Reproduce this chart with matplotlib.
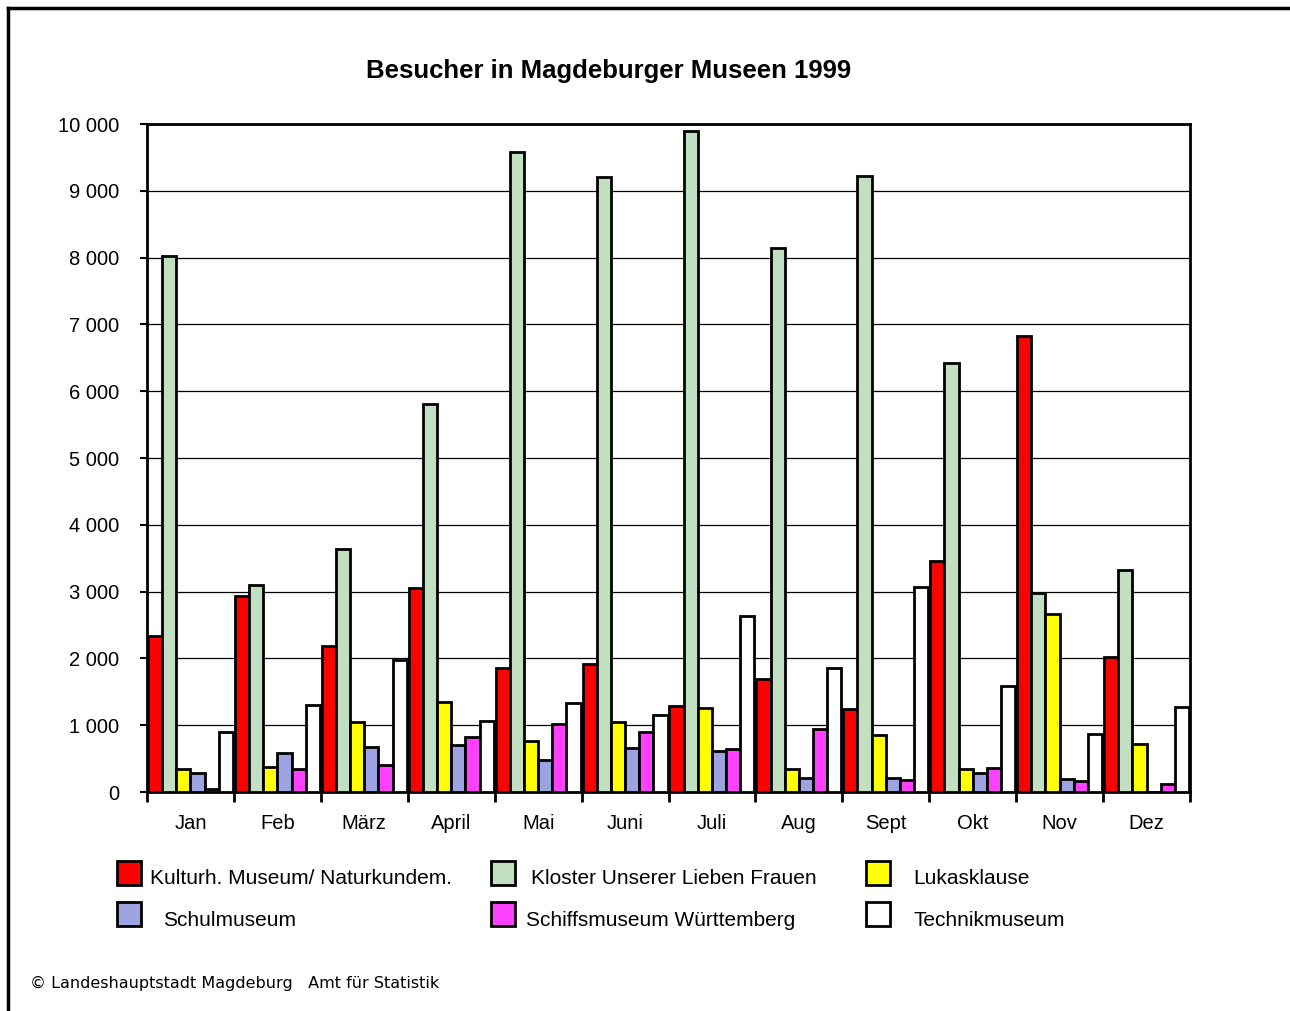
import numpy as np
import matplotlib
matplotlib.use("Agg")
import matplotlib.pyplot as plt
from matplotlib.patches import Rectangle
from matplotlib.lines import Line2D
from matplotlib.ticker import FuncFormatter

plt.rcParams['font.family'] = ['Liberation Sans', 'DejaVu Sans']

# Daten: Besucher je Monat 1999
monate = ['Jan', 'Feb', 'März', 'April', 'Mai', 'Juni', 'Juli', 'Aug', 'Sept', 'Okt', 'Nov', 'Dez']
kulturhist = [2335, 2935, 2185, 3050, 1850, 1915, 1290, 1690, 1245, 3460, 6825, 2025]
kloster = [8025, 3095, 3640, 5810, 9580, 9205, 9895, 8145, 9220, 6420, 2980, 3325]
lukasklause = [345, 370, 1050, 1340, 770, 1050, 1260, 345, 855, 340, 2665, 725]
schulmuseum = [290, 580, 680, 705, 480, 665, 615, 215, 215, 280, 200, 0]
schiffsmuseum = [50, 350, 405, 820, 1020, 895, 650, 940, 180, 360, 160, 115]
technik = [895, 1300, 1980, 1070, 1330, 1150, 2630, 1850, 3070, 1585, 870, 1270]

namen = ['Kulturh. Museum/ Naturkundem.', 'Kloster Unserer Lieben Frauen', 'Lukasklause',
         'Schulmuseum', 'Schiffsmuseum Württemberg', 'Technikmuseum']
farben = ['#FF0000', '#C2DFC2', '#FFFF00', '#9CA3E0', '#FF40FF', '#FFFFFF']
reihen = [kulturhist, kloster, lukasklause, schulmuseum, schiffsmuseum, technik]

fig = plt.figure(figsize=(12.9, 10.11), dpi=100)
ax = fig.add_axes([147 / 1290, 1 - 792 / 1011, 1043 / 1290, 668 / 1011])

x = np.arange(len(monate))
breite = 0.163
start = -2.5 * breite
for i, (werte, farbe) in enumerate(zip(reihen, farben)):
    ax.bar(x + start + i * breite, werte, breite, color=farbe, edgecolor='black',
           linewidth=2, zorder=3)

ax.set_xlim(-0.5, len(monate) - 0.5)
ax.set_ylim(0, 10000)
ax.set_yticks(np.arange(0, 10001, 1000))
ax.yaxis.set_major_formatter(FuncFormatter(lambda v, p: '{:,.0f}'.format(v).replace(',', ' ')))
ax.grid(axis='y', color='black', linewidth=0.9, zorder=0)
ax.set_axisbelow(True)

# Monatsnamen mittig, Striche an den Grenzen
ax.set_xticks(np.arange(-0.5, len(monate)), minor=False)
ax.set_xticklabels([])
ax.set_xticks(x, minor=True)
ax.set_xticklabels(monate, minor=True, fontsize=14.5)
ax.tick_params(axis='x', which='major', length=7, width=2, direction='out')
ax.tick_params(axis='x', which='minor', length=0, pad=16)
ax.tick_params(axis='y', length=5, width=1.5, direction='out', labelsize=14.5, pad=15)

for s in ax.spines.values():
    s.set_linewidth(2)
    s.set_color('black')

fig.text(609 / 1290, 1 - 71 / 1011, 'Besucher in Magdeburger Museen 1999',
         ha='center', va='center', fontsize=18.5, fontweight='bold')

# Legende (zeilenweise, 3 Spalten)
spalten_x = [117, 491, 866]
text_x = [[150, 531, 913], [163, 526, 913]]
zeilen_y = [873, 914]
for k, (name, farbe) in enumerate(zip(namen, farben)):
    z, s = divmod(k, 3)
    px, py = spalten_x[s], zeilen_y[z]
    fig.patches.append(Rectangle((px / 1290, 1 - (py + 12) / 1011), 24 / 1290, 24 / 1011,
                                 transform=fig.transFigure, facecolor=farbe,
                                 edgecolor='black', linewidth=2))
    fig.text(text_x[z][s] / 1290, 1 - (py + 6) / 1011, name, ha='left', va='center', fontsize=15)

fig.text(30 / 1290, 1 - 983 / 1011,
         '© Landeshauptstadt Magdeburg   Amt für Statistik',
         ha='left', va='center', fontsize=11.5, family='DejaVu Sans')

# Rahmen oben und links
fig.lines.append(Line2D([8 / 1290, 8 / 1290], [0, 1 - 8 / 1011], transform=fig.transFigure,
                        color='black', linewidth=2.5))
fig.lines.append(Line2D([8 / 1290, 1], [1 - 8 / 1011, 1 - 8 / 1011], transform=fig.transFigure,
                        color='black', linewidth=2.5))

fig.savefig('out.png', dpi=100)
